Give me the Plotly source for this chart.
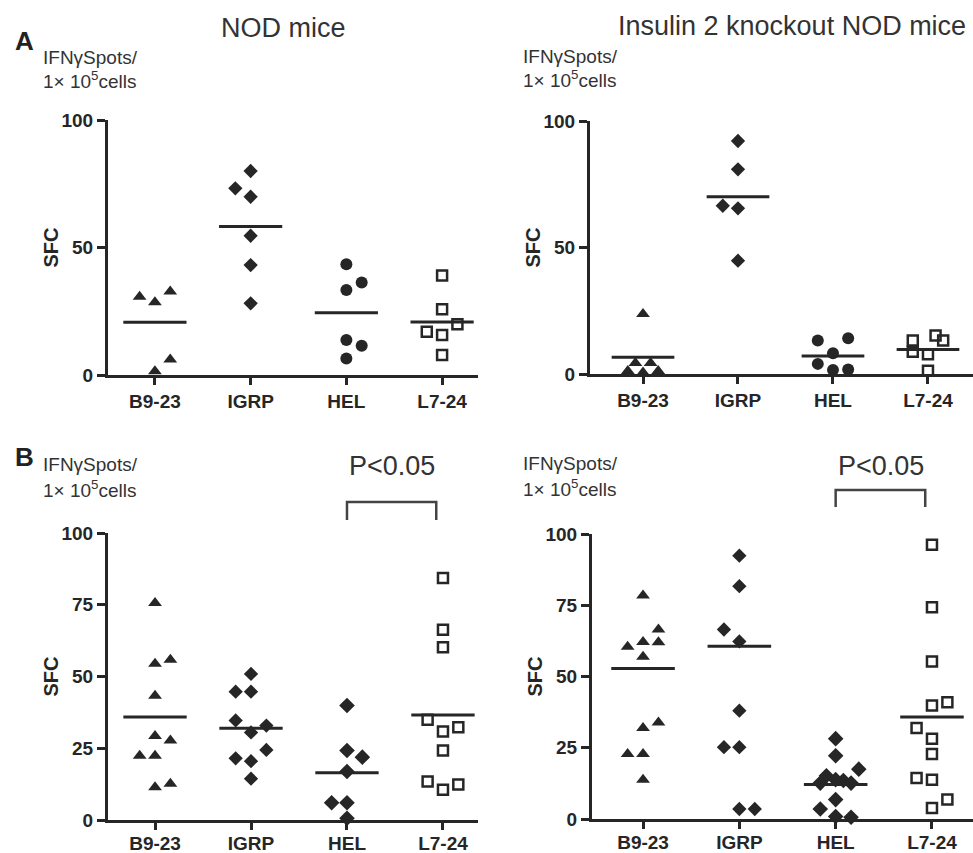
import plotly.graph_objects as go

W, H = 973, 853

categories = ["B9-23", "IGRP", "HEL", "L7-24"]

# ---------------- data (SFC per 1e5 cells) ----------------
# Panel A, NOD mice
a_nod_b923 = [30.7, 28.5, 32.7, 6.1, 1.5]
a_nod_igrp = [80.0, 73.2, 69.9, 54.6, 43.1, 28.1]
a_nod_hel = [43.4, 36.3, 33.3, 13.7, 11.5, 6.5]
a_nod_l724 = [39.0, 25.8, 19.9, 17.0, 15.7, 7.8]
a_nod_means = [20.7, 58.2, 24.4, 20.8]

# Panel A, Insulin 2 knockout NOD mice
a_ko_b923 = [23.7, 4.3, 4.3, 1.2, 1.2, 0.6]
a_ko_igrp = [92.1, 80.9, 66.5, 65.5, 44.8]
a_ko_hel = [13.2, 14.1, 8.2, 4.0, 1.6, 1.8]
a_ko_l724 = [13.2, 15.2, 13.2, 8.8, 7.8, 1.3]
a_ko_means = [6.6, 70.1, 7.1, 9.7]

# Panel B, NOD mice
b_nod_b923 = [75.6, 54.4, 55.8, 43.3, 29.3, 27.7, 22.4, 22.4, 11.4, 12.6]
b_nod_igrp = [50.9, 44.7, 44.7, 34.7, 32.9, 30.5, 24.4, 21.5, 20.5, 14.4]
b_nod_hel = [39.9, 24.2, 21.9, 16.9, 6.0, 6.0, 0.6]
b_nod_l724 = [84.3, 66.3, 60.2, 34.9, 30.8, 32.3, 24.2, 13.4, 10.5, 12.4]
b_nod_means = [35.9, 32.0, 16.5, 36.6]

# Panel B, Insulin 2 knockout NOD mice
b_ko_b923 = [78.4, 66.5, 62.1, 62.0, 60.4, 56.9, 33.9, 31.9, 22.8, 22.8, 13.8]
b_ko_igrp = [92.4, 81.7, 66.5, 62.3, 38.0, 25.2, 25.2, 3.5, 3.5]
b_ko_hel = [28.2, 22.2, 17.5, 15.2, 13.8, 13.5, 12.6, 12.6, 6.8, 3.5, 0.9, 0.6]
b_ko_l724 = [96.2, 74.3, 55.3, 41.0, 39.8, 31.9, 28.2, 22.8, 14.4, 13.8, 6.8, 3.9]
b_ko_means = [52.8, 60.6, 12.1, 35.8]

# ---------------- layout helpers (horizontal swarm slots) ----------------
a_nod_slots = [[-1, 0, 1, 1, 0], [0, -1, 0, 0, 0, 0], [0, 1, 0, 0, 1, 0], [0, 0, 1, -1, 0, 0]]
a_ko_slots = [[0, -0.5, 0.5, -1, 1, 0], [0, 0, -1, 0, 0], [-1, 1, 0, -1, 0, 1], [-1, 0.5, 1, -1, 0, 0]]
b_nod_slots = [[0, 0, 1, 0, 0, 1, -1, 0, 0, 1], [0, -1, 0, -1, 1, 0, 1, -1, 0, 0],
               [0, 0, 1, 0, -1, 0, 0], [0, 0, 0, -1, 0, 1, 0, -1, 0, 1]]
b_ko_slots = [[0, 1, 0, 1, -1, 0, 1, 0, -1, 0, 0], [0, 0, -1, 0, 0, -1, 0, 0, 1],
              [0, 0, 1.5, -0.6, 0, 0.5, 1, -1, 0, -1, 0, 1], [0, 0, 0, 1, 0, -1, 0, 0, -1, 0, 1, 0]]
SLOT = 0.16
HALF = 0.33

INK = "#262626"
TXT = "#333333"
FONT = "Liberation Sans, Arial, sans-serif"


def px_x(p):
    return p / W


def px_y(p):
    return 1 - p / H


# pixel boxes of each plot: (left, right, top(100), bottom(0)), x range
panels = [
    dict(name="1", box=(108, 478, 120, 375), xr=[-0.49, 3.375], yt=[0, 50, 100],
         groups=[a_nod_b923, a_nod_igrp, a_nod_hel, a_nod_l724], means=a_nod_means,
         slots=a_nod_slots, hel="circle", standoff=0),
    dict(name="2", box=(590, 973, 121, 374), xr=[-0.558, 3.474], yt=[0, 50, 100],
         groups=[a_ko_b923, a_ko_igrp, a_ko_hel, a_ko_l724], means=a_ko_means,
         slots=a_ko_slots, hel="circle", standoff=0),
    dict(name="3", box=(108, 478, 533, 820), xr=[-0.49, 3.365], yt=[0, 25, 50, 75, 100],
         groups=[b_nod_b923, b_nod_igrp, b_nod_hel, b_nod_l724], means=b_nod_means,
         slots=b_nod_slots, hel="diamond", standoff=-3),
    dict(name="4", box=(592, 973, 534, 819), xr=[-0.53, 3.426], yt=[0, 25, 50, 75, 100],
         groups=[b_ko_b923, b_ko_igrp, b_ko_hel, b_ko_l724], means=b_ko_means,
         slots=b_ko_slots, hel="diamond", standoff=-3),
]

fig = go.Figure()
layout = dict(width=W, height=H, margin=dict(l=0, r=0, t=0, b=0, autoexpand=False),
              paper_bgcolor="white", plot_bgcolor="white", showlegend=False,
              font=dict(family=FONT, color=TXT))
annotations = []
shapes = []

for p in panels:
    n = p["name"]
    xa = "x" if n == "1" else "x" + n
    ya = "y" if n == "1" else "y" + n
    l, r, t, b = p["box"]
    xdom = [px_x(l), px_x(r)]
    ydom = [px_y(b), px_y(t)]
    p["xdom"], p["ydom"] = xdom, ydom
    symbols = ["triangle-up", "diamond", p["hel"], "square-open"]
    sizes = [12, 11, 12, 10]
    for i, (vals, sl) in enumerate(zip(p["groups"], p["slots"])):
        xs = [i + s * SLOT for s in sl]
        fig.add_trace(go.Scatter(
            x=xs, y=vals, mode="markers", xaxis=xa, yaxis=ya, cliponaxis=False,
            marker=dict(symbol=symbols[i], size=sizes[i], color=INK,
                        line=dict(width=2.5 if i == 3 else 0, color=INK)),
            hoverinfo="y"))
    mx, my = [], []
    for i, m in enumerate(p["means"]):
        mx += [i - HALF, i + HALF, None]
        my += [m, m, None]
    fig.add_trace(go.Scatter(x=mx, y=my, mode="lines", xaxis=xa, yaxis=ya,
                             line=dict(color=INK, width=3), hoverinfo="skip"))
    axkey = "xaxis" if n == "1" else "xaxis" + n
    aykey = "yaxis" if n == "1" else "yaxis" + n
    layout[axkey] = dict(domain=xdom, range=p["xr"], anchor=ya, tickmode="array",
                         tickvals=[0, 1, 2, 3], ticktext=categories, showline=True,
                         linewidth=3, linecolor=INK, ticks="outside", ticklen=7,
                         tickwidth=3, tickcolor=INK, showgrid=False, zeroline=False,
                         automargin=False, ticklabelstandoff=p["standoff"],
                         tickfont=dict(family=FONT, size=19, color=INK, weight="bold"))
    layout[aykey] = dict(domain=ydom, range=[0, 100], anchor=xa, tickmode="array",
                         tickvals=p["yt"], showline=True, linewidth=3, linecolor=INK,
                         ticks="outside", ticklen=8, tickwidth=3, tickcolor=INK,
                         showgrid=False, zeroline=False, automargin=False,
                         tickfont=dict(family=FONT, size=19, color=INK, weight="bold"))
    # SFC label
    annotations.append(dict(text="<b>SFC</b>", x=px_x(l - 58), y=(ydom[0] + ydom[1]) / 2,
                            xref="paper", yref="paper", showarrow=False, textangle=-90,
                            font=dict(size=20, color=INK), xanchor="center", yanchor="middle"))


def to_paper(p, xv, yv):
    xd, yd, xr = p["xdom"], p["ydom"], p["xr"]
    px = xd[0] + (xv - xr[0]) / (xr[1] - xr[0]) * (xd[1] - xd[0])
    py = yd[0] + yv / 100 * (yd[1] - yd[0])
    return px, py


# significance brackets (HEL vs L7-24) in panels B
for p, (ytop, ybot, ytxt) in [(panels[2], (110.8, 104.5, 123.5)), (panels[3], (115.4, 109.5, 124.0))]:
    x0, y0 = to_paper(p, 2.0, ytop)
    x1, y1 = to_paper(p, 2.93, ybot)
    shapes.append(dict(type="path", xref="paper", yref="paper",
                       path=f"M {x0} {y1} L {x0} {y0} L {x1} {y0} L {x1} {y1}",
                       line=dict(color="#444444", width=2.5)))
    tx, ty = to_paper(p, 2.47, ytxt)
    annotations.append(dict(text="P<0.05", x=tx, y=ty, xref="paper", yref="paper",
                            showarrow=False, font=dict(size=27, color=TXT),
                            xanchor="center", yanchor="middle"))

# titles and labels
for txt, x, y, size in [("NOD mice", 283, 28, 27), ("Insulin 2 knockout NOD mice", 792, 26, 27)]:
    annotations.append(dict(text=txt, x=px_x(x), y=px_y(y), xref="paper", yref="paper",
                            showarrow=False, font=dict(size=size, color=TXT),
                            xanchor="center", yanchor="middle"))
for txt, x, y in [("A", 13, 41), ("B", 13, 457)]:
    annotations.append(dict(text=f"<b>{txt}</b>", x=px_x(x), y=px_y(y), xref="paper",
                            yref="paper", showarrow=False, font=dict(size=26, color="#222222"),
                            xanchor="left", yanchor="middle"))
for x, y1, y2 in [(41, 57, 80), (521, 56, 79), (41, 464, 489), (521, 463, 488)]:
    annotations.append(dict(text="IFNγSpots/", x=px_x(x), y=px_y(y1), xref="paper",
                            yref="paper", showarrow=False, font=dict(size=19, color=TXT),
                            xanchor="left", yanchor="middle"))
    annotations.append(dict(text="1× 10<sup>5</sup>cells", x=px_x(x), y=px_y(y2), xref="paper",
                            yref="paper", showarrow=False, font=dict(size=19, color=TXT),
                            xanchor="left", yanchor="middle"))

layout["annotations"] = annotations
layout["shapes"] = shapes
fig.update_layout(**layout)
fig.write_html("out.html")
